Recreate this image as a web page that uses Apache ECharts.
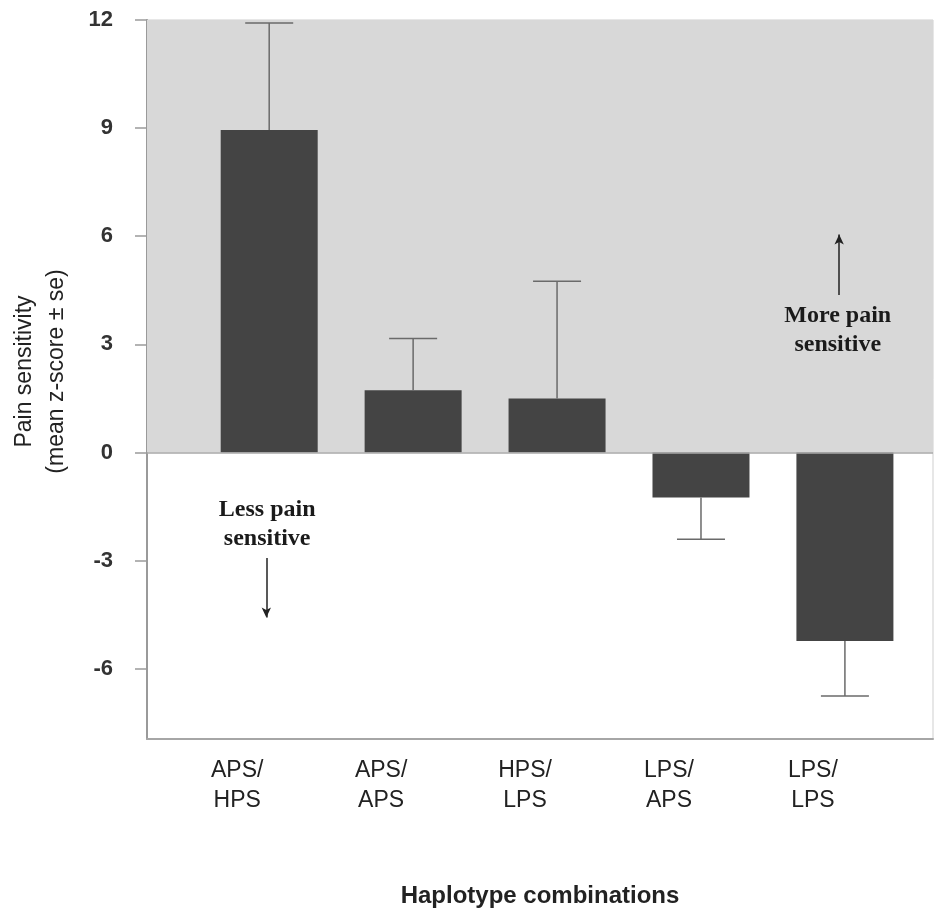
<!DOCTYPE html>
<html>
<head>
<meta charset="utf-8">
<script src="https://cdn.jsdelivr.net/npm/echarts@6/dist/echarts.min.js"></script>
<style>
  html, body { margin: 0; padding: 0; background: #fff; }
  #chart { width: 936px; height: 913px; }
</style>
</head>
<body>
<div id="chart"></div>
<script>
// haplotype groups, in plotting order
var categories = ['APS/\nHPS', 'APS/\nAPS', 'HPS/\nLPS', 'LPS/\nAPS', 'LPS/\nLPS'];
// mean z-score per group
var means = [8.95, 1.73, 1.50, -1.25, -5.23];
// standard error (one-sided bar, away from zero)
var se = [2.97, 1.43, 3.25, 1.16, 1.53];
// y axis tick labels
var yTicks = [-6, -3, 0, 3, 6, 9, 12];

var barData = means.map(function (m, i) { return [i, m]; });
var errData = means.map(function (m, i) { return [i, m, se[i]]; });

var myChart = echarts.init(document.getElementById('chart'));

var sansFont = 'Liberation Sans, Arial, sans-serif';
var serifFont = 'Liberation Serif, Times New Roman, serif';

var option = {
  animation: false,
  backgroundColor: '#fff',
  grid: {
    left: 147,
    right: 3,
    top: 20,
    bottom: 170,
    show: true,
    borderColor: '#cfcfcf',
    borderWidth: 1,
    backgroundColor: '#fff'
  },
  xAxis: {
    type: 'value',
    // keeps the bars where the original plot put them inside the frame
    min: -0.849,
    max: 4.612,
    splitLine: { show: false },
    axisTick: { show: false },
    axisLine: { show: true, onZero: false, lineStyle: { color: '#a6a6a6', width: 2 } },
    axisLabel: {
      customValues: [0, 1, 2, 3, 4],
      formatter: function (v) { return categories[Math.round(v)]; },
      fontFamily: sansFont,
      fontSize: 23,
      lineHeight: 30,
      color: '#222',
      margin: 17,
      padding: [0, 64, 0, 0]
    },
    name: 'Haplotype combinations',
    nameLocation: 'middle',
    nameGap: 145,
    nameTextStyle: {
      fontFamily: sansFont,
      fontSize: 24,
      fontWeight: 'bold',
      color: '#222'
    }
  },
  yAxis: {
    type: 'value',
    min: -7.95,
    max: 12,
    splitLine: { show: false },
    axisLine: { show: true, onZero: false, lineStyle: { color: '#9a9a9a', width: 2 } },
    axisTick: {
      show: true,
      customValues: yTicks,
      length: 12,
      lineStyle: { color: '#9a9a9a', width: 1.5 }
    },
    axisLabel: {
      customValues: yTicks,
      fontFamily: sansFont,
      fontSize: 22,
      fontWeight: 'bold',
      color: '#333',
      margin: 34
    },
    name: 'Pain sensitivity\n(mean z-score \u00b1 se)',
    nameLocation: 'middle',
    nameGap: 74,
    nameTextStyle: {
      fontFamily: sansFont,
      fontSize: 23,
      lineHeight: 32,
      color: '#222',
      padding: [0, 0, 0, 16]
    }
  },
  series: [
    {
      // grey band above zero and the zero line
      type: 'line',
      data: [],
      z: 1,
      silent: true,
      markArea: {
        silent: true,
        itemStyle: { color: '#d8d8d8' },
        data: [[{ yAxis: 0 }, { yAxis: 12 }]]
      },
      markLine: {
        silent: true,
        symbol: ['none', 'none'],
        label: { show: false },
        lineStyle: { color: '#a8a8a8', width: 1.5, type: 'solid' },
        data: [{ yAxis: 0 }]
      }
    },
    {
      name: 'mean',
      type: 'bar',
      z: 3,
      barWidth: 97,
      itemStyle: { color: '#444444' },
      data: barData,
      markLine: {
        silent: true,
        symbol: ['none', 'arrow'],
        symbolSize: [7, 10],
        label: { show: false },
        lineStyle: { color: '#222', width: 1.5, type: 'solid' },
        data: [
          [{ coord: [-0.02, -2.93] }, { coord: [-0.02, -4.58] }],
          [{ coord: [3.96, 4.37] }, { coord: [3.96, 6.05] }]
        ]
      },
      markPoint: {
        silent: true,
        symbol: 'rect',
        symbolSize: 0,
        label: {
          show: true,
          position: 'inside',
          fontFamily: serifFont,
          fontWeight: 'bold',
          fontSize: 24,
          lineHeight: 29,
          color: '#1a1a1a',
          align: 'center',
          verticalAlign: 'middle',
          formatter: function (p) { return p.name; }
        },
        data: [
          { name: 'Less pain\nsensitive', coord: [-0.014, -1.99] },
          { name: 'More pain\nsensitive', coord: [3.95, 3.40] }
        ]
      }
    },
    {
      name: 'se',
      type: 'custom',
      z: 4,
      silent: true,
      data: errData,
      renderItem: function (params, api) {
        var x = api.value(0);
        var m = api.value(1);
        var e = api.value(2);
        var base = api.coord([x, m]);
        var tip = api.coord([x, m + (m >= 0 ? e : -e)]);
        var hw = 24;
        var st = { stroke: '#6a6a6a', lineWidth: 1.5 };
        return {
          type: 'group',
          children: [
            { type: 'line', shape: { x1: base[0], y1: base[1], x2: tip[0], y2: tip[1] }, style: st },
            { type: 'line', shape: { x1: tip[0] - hw, y1: tip[1], x2: tip[0] + hw, y2: tip[1] }, style: st }
          ]
        };
      }
    }
  ]
};

myChart.setOption(option);
</script>
</body>
</html>
